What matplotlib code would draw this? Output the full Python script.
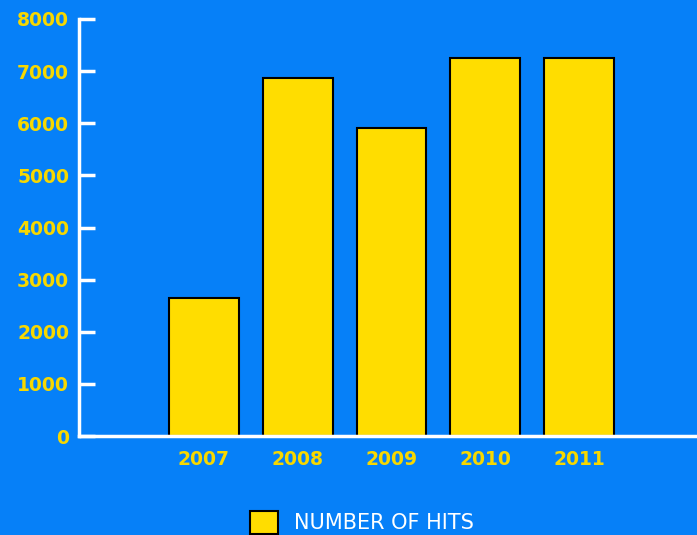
import matplotlib.pyplot as plt

years = ['2007', '2008', '2009', '2010', '2011']
hits = [2650, 6870, 5910, 7255, 7245]
y_ticks = [0, 1000, 2000, 3000, 4000, 5000, 6000, 7000, 8000]
series_name = 'NUMBER OF HITS'

bg = '#0680F8'
bar_yellow = '#FFDD00'
label_yellow = '#F7D800'

fig = plt.figure(figsize=(6.97, 5.35), dpi=100, facecolor=bg)
ax = fig.add_axes([0.1133, 0.185, 0.8867, 0.7795])
ax.set_facecolor(bg)

x = range(len(years))
ax.bar(x, hits, width=0.745, color=bar_yellow, edgecolor='black', linewidth=1.5,
       label=series_name, zorder=2)

ax.set_xlim(-1.33, 5.255)
ax.set_ylim(0, 8000)
ax.set_yticks(y_ticks)
ax.set_xticks(list(x))
ax.set_xticklabels(years)

for s in ['top', 'right']:
    ax.spines[s].set_visible(False)
for s in ['left', 'bottom']:
    ax.spines[s].set_color('white')
    ax.spines[s].set_linewidth(2.5)
    ax.spines[s].set_zorder(3)

ax.tick_params(axis='y', direction='in', length=11.5, width=2.5, color='white',
               pad=7, labelcolor=label_yellow, labelsize=13.5)
ax.tick_params(axis='x', length=0, pad=10, labelcolor=label_yellow, labelsize=13.5)
for lbl in ax.get_xticklabels() + ax.get_yticklabels():
    lbl.set_fontweight('bold')

leg = fig.legend(loc='upper left', bbox_to_anchor=(0.359, 0.045), frameon=False,
                 prop={'size': 15, 'weight': 'medium'}, handlelength=1.33,
                 handleheight=1.33, handletextpad=0.75, borderpad=0,
                 borderaxespad=0)
for t in leg.get_texts():
    t.set_color('white')

fig.savefig('out.png', dpi=100, facecolor=bg)
